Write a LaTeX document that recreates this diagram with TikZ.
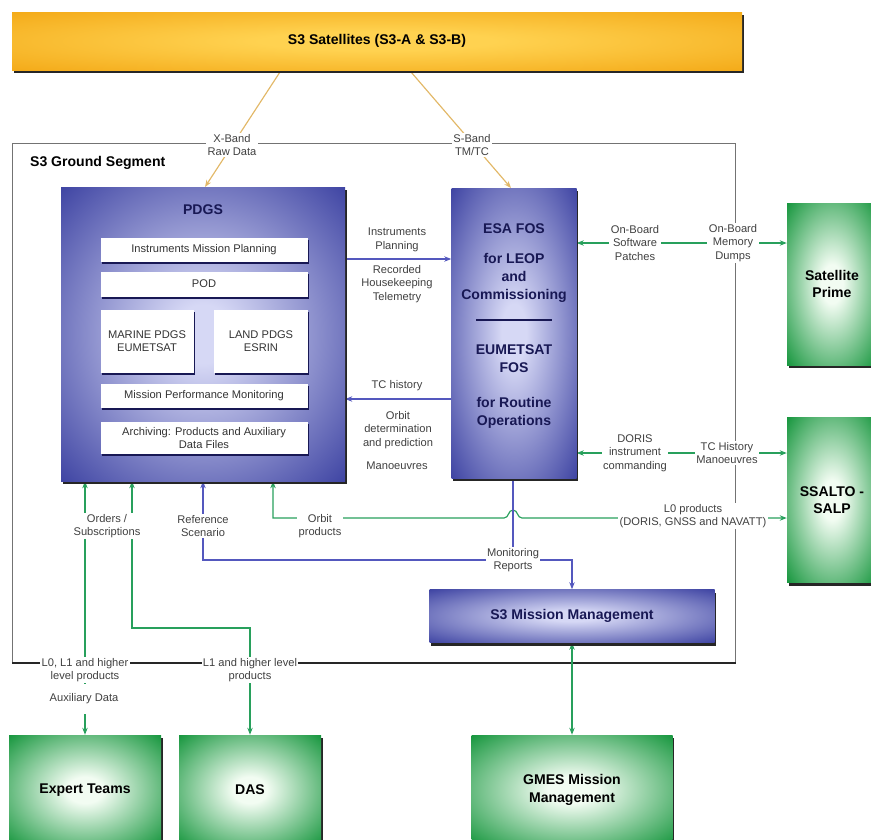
\documentclass[tikz,border=0pt]{standalone}
\usepackage{fontspec}
\setmainfont{Liberation Sans}
\usetikzlibrary{arrows.meta,shadows}

\definecolor{edgeblue}{RGB}{50,56,156}
\definecolor{glowblue}{RGB}{214,216,245}
\definecolor{edgegreen}{RGB}{18,148,58}
\definecolor{glowgreen}{RGB}{242,252,242}
\definecolor{edgeorange}{RGB}{242,164,16}
\definecolor{gloworange}{RGB}{255,210,80}
\definecolor{navy}{RGB}{24,24,84}
\definecolor{linkblue}{RGB}{84,88,190}
\definecolor{linkgreen}{RGB}{40,160,92}
\definecolor{linkband}{RGB}{226,184,104}

\pgfdeclareradialshading{blueglow}{\pgfpoint{0bp}{0bp}}{color(0bp)=(glowblue); color(5bp)=(glowblue); color(38bp)=(edgeblue); color(50bp)=(edgeblue)}
\pgfdeclareradialshading{greenglow}{\pgfpoint{0bp}{0bp}}{color(0bp)=(glowgreen); color(6bp)=(glowgreen); color(36bp)=(edgegreen); color(50bp)=(edgegreen)}
\pgfdeclareradialshading{barglow}{\pgfpoint{0bp}{0bp}}{color(0bp)=(gloworange); color(8bp)=(gloworange); color(40bp)=(edgeorange); color(50bp)=(edgeorange)}

\pgfdeclarelayer{back}
\pgfsetlayers{back,main}

\begin{document}
\begin{tikzpicture}[x=0.03cm,y=-0.03cm,>={Stealth[length=6pt,width=4.6pt]},
  sz/.style 2 args={minimum width=#1*0.03cm,minimum height=#2*0.03cm},
  dropped/.style={drop shadow={shadow xshift=1.3pt,shadow yshift=-2.6pt,fill=black!85,opacity=1}},
  bluebox/.style={dropped,shade,shading=blueglow,inner sep=0pt,text=navy,font=\bfseries\fontsize{12}{15}\selectfont,align=center},
  greenbox/.style={dropped,shade,shading=greenglow,inner sep=0pt,font=\bfseries\fontsize{12}{15}\selectfont,align=center},
  barbox/.style={dropped,shade,shading=barglow,inner sep=0pt,font=\bfseries\fontsize{12}{15}\selectfont},
  whitebox/.style={fill=white,inner sep=0pt,drop shadow={shadow xshift=1pt,shadow yshift=-2pt,fill=navy,opacity=1},font=\fontsize{9.5}{11.5}\selectfont,text=black!80,align=center},
  lbl/.style={fill=white,inner sep=1.2pt,font=\fontsize{9.5}{11.5}\selectfont,text=black!75,align=center},
  bigtxt/.style={font=\bfseries\fontsize{12}{15.3}\selectfont,text=navy,align=center},
  gsframe/.style={draw=black!55,line width=0.8pt},
  framebase/.style={draw=black!85,line width=2.2pt},
  bluelink/.style={draw=linkblue,line width=1pt},
  greenlink/.style={draw=linkgreen,line width=1pt},
  bandlink/.style={draw=linkband,line width=1pt}]
  \useasboundingbox (0,0) rectangle (871,839);
  \clip (0,0) rectangle (871,839);

  \node[barbox,sz={730}{58}] (sat) at (377,41) {S3 Satellites (S3-A \& S3-B)};
  \node[anchor=west,font=\bfseries\fontsize{12}{15}\selectfont] (gstitle) at (26,163) {S3 Ground Segment};

  \node[bluebox,sz={284}{294}] (pdgs) at (203,334) {};
  \node[bigtxt] (pdgstitle) at (203,210) {PDGS};
  \node[whitebox,sz={207}{24}] (imp) at (204,250) {Instruments Mission Planning};
  \node[whitebox,sz={207}{25}] (pod) at (204,284) {POD};
  \node[whitebox,sz={93}{63}] (marine) at (147,341) {MARINE PDGS\\EUMETSAT};
  \node[whitebox,sz={94}{63}] (land) at (261,341) {LAND PDGS\\ESRIN};
  \node[whitebox,sz={207}{24}] (mpm) at (204,396) {Mission Performance Monitoring};
  \node[whitebox,sz={207}{32}] (arch) at (204,438) {Archiving: Products and Auxiliary\\Data Files};

  \node[bluebox,sz={125}{290}] (fos) at (514,333) {};
  \node[bigtxt] (fosesa) at (514,229) {ESA FOS};
  \node[bigtxt] (fosleop) at (514,278) {for LEOP\\and\\Commissioning};
  \draw[navy,line width=1pt] (476,320) -- (552,320);
  \node[bigtxt] (foseum) at (514,359) {EUMETSAT\\FOS};
  \node[bigtxt] (fosrout) at (514,413) {for Routine\\Operations};

  \node[bluebox,sz={285}{53}] (mm) at (572,616) {S3 Mission Management};

  \node[greenbox,sz={90}{162}] (prime) at (832,284) {Satellite\\Prime};
  \node[greenbox,sz={90}{165}] (ssalto) at (832,500) {SSALTO -\\SALP};
  \node[greenbox,sz={152}{110}] (expert) at (85,790) {Expert Teams};
  \node[greenbox,sz={142}{110}] (das) at (250,790) {DAS};
  \node[greenbox,sz={201}{110}] (gmes) at (572,790) {GMES Mission\\Management};

  \node[lbl] (xband) at (232,145) {X-Band\\Raw Data};
  \node[lbl] (sband) at (472,145) {S-Band\\TM/TC};
  \node[lbl] (instpl) at (397,240) {Instruments\\Planning};
  \node[lbl] (rechk) at (397,284) {Recorded\\Housekeeping\\Telemetry};
  \node[lbl] (tchist) at (397,386) {TC history};
  \node[lbl] (orbdet) at (398,430) {Orbit\\determination\\and prediction};
  \node[lbl] (manoeuv) at (397,466) {Manoeuvres};
  \node[lbl] (obsp) at (635,243) {On-Board\\Software\\Patches};
  \node[lbl] (obmd) at (733,243) {On-Board\\Memory\\Dumps};
  \node[lbl] (doris) at (635,453) {DORIS\\instrument\\commanding};
  \node[lbl] (tchm) at (727,453) {TC History\\Manoeuvres};
  \node[lbl] (lzero) at (693,516) {L0 products\\(DORIS, GNSS and NAVATT)};
  \node[lbl] (orbprod) at (320,526) {Orbit\\products};
  \node[lbl] (ordsub) at (107,526) {Orders /\\Subscriptions};
  \node[lbl] (refscen) at (203,526) {Reference\\Scenario};
  \node[lbl] (monrep) at (513,560) {Monitoring\\Reports};
  \node[lbl] (lall) at (85,670) {L0, L1 and higher\\level products};
  \node[lbl] (lone) at (250,670) {L1 and higher level\\products};
  \node[lbl,inner ysep=8pt] (auxd) at (84,699) {Auxiliary Data};

  \coordinate (xbs) at (280,72);
  \coordinate (xbe) at (205,187);
  \coordinate (sbs) at (411,72);
  \coordinate (sbe) at (511,188);
  \coordinate (ipl) at (397,259);
  \coordinate (tcl) at (397,399);
  \coordinate (subbend) at (132,628);
  \coordinate (orbbend) at (273,518);

  \begin{pgfonlayer}{back}
  \draw[gsframe] (12,663) -- (12,143) -- (735,143) -- (735,663);
  \draw[framebase] (12,663) -- (736,663);
  \draw[bandlink,->] (xbs) -- (xbe);
  \draw[bandlink,->] (sbs) -- (sbe);
  \draw[bluelink,->] (ipl -| pdgs.east) -- (ipl -| fos.west);
  \draw[bluelink,->] (tcl -| fos.west) -- (tcl -| pdgs.east);
  \draw[greenlink,<->] (obsp -| fos.east) -- (obsp -| prime.west);
  \draw[greenlink,<->] (doris -| fos.east) -- (doris -| ssalto.west);
  \draw[greenlink,<->] (pdgs.south -| expert) -- (expert.north);
  \draw[greenlink,<->] (pdgs.south -| subbend) -- (subbend) -| (das.north);
  \draw[greenlink,<->] (pdgs.south -| orbbend) -- (orbbend) -- (504,518) .. controls (509,518) and (508,510) .. (513,510) .. controls (518,510) and (517,518) .. (522,518) -- (orbbend -| ssalto.west);
  \draw[bluelink,->] (fos.south -| monrep) -- (monrep.center) -| (mm.north);
  \draw[bluelink,->] (monrep.center) -| (refscen.center) -- (pdgs.south -| refscen);
  \draw[greenlink,<->] (mm.south) -- (gmes.north);
  \end{pgfonlayer}
\end{tikzpicture}
\end{document}
